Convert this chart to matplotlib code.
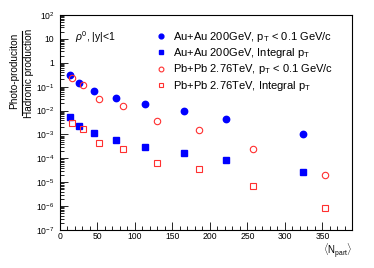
import numpy as np
import matplotlib
matplotlib.use("Agg")
import matplotlib.pyplot as plt
from matplotlib.lines import Line2D
from matplotlib.ticker import FixedLocator, FixedFormatter, MultipleLocator

plt.rcParams['font.family'] = ['Liberation Sans', 'DejaVu Sans']
plt.rcParams['mathtext.fontset'] = 'custom'
plt.rcParams['mathtext.rm'] = 'Liberation Sans'
plt.rcParams['mathtext.it'] = 'Liberation Sans:italic'

# data
npartAu = [13.5, 25.7, 45.7, 74.7, 113, 165, 222, 324]
auLowPt = [0.31, 0.147, 0.068, 0.035, 0.018, 0.0095, 0.0044, 1.0e-3]
auIntPt = [0.0052, 0.0023, 0.00112, 5.9e-4, 3.1e-4, 1.6e-4, 8.5e-5, 2.6e-5]

npartPb = [15.6, 30.3, 52.4, 84.4, 129, 185, 258, 354]
pbLowPt = [0.23, 0.118, 0.030, 0.0156, 0.0037, 0.0016, 2.5e-4, 2.1e-5]
pbIntPt = [0.0031, 0.00165, 4.3e-4, 2.4e-4, 6.3e-5, 3.5e-5, 7e-6, 8.7e-7]

labels = [r"Au+Au 200GeV, p$_{\mathrm{T}}$ < 0.1 GeV/c",
          r"Au+Au 200GeV, Integral p$_{\mathrm{T}}$",
          r"Pb+Pb 2.76TeV, p$_{\mathrm{T}}$ < 0.1 GeV/c",
          r"Pb+Pb 2.76TeV, Integral p$_{\mathrm{T}}$"]

yTicks = [1e-7, 1e-6, 1e-5, 1e-4, 1e-3, 1e-2, 1e-1, 1, 10, 100]
yTickLabels = ["$10^{-7}$", "$10^{-6}$", "$10^{-5}$", "$10^{-4}$", "$10^{-3}$",
               "$10^{-2}$", "$10^{-1}$", "1", "10", "$10^{2}$"]

W, H = 374, 268
fig = plt.figure(figsize=(W / 100, H / 100), dpi=100)
ax = fig.add_axes([60 / W, 1 - 230 / H, (351.7 - 60) / W, (230 - 15) / H])

blue = '#0000ff'
red = '#ff3030'
h1, = ax.plot(npartAu, auLowPt, 'o', color=blue, ms=4.6, mec=blue, ls='none')
h2, = ax.plot(npartAu, auIntPt, 's', color=blue, ms=4.3, mec=blue, ls='none')
h3, = ax.plot(npartPb, pbLowPt, 'o', mfc='none', mec=red, mew=0.8, ms=4.6, ls='none')
h4, = ax.plot(npartPb, pbIntPt, 's', mfc='none', mec=red, mew=0.8, ms=4.6, ls='none')

ax.set_yscale('log')
ax.set_xlim(0, 389)
ax.set_ylim(1e-7, 100)
ax.yaxis.set_major_locator(FixedLocator(yTicks))
ax.yaxis.set_major_formatter(FixedFormatter(yTickLabels))
minor = [m * 10.0 ** e for e in range(-7, 2) for m in range(2, 10)]
ax.yaxis.set_minor_locator(FixedLocator(minor))
ax.xaxis.set_major_locator(MultipleLocator(50))
ax.xaxis.set_minor_locator(MultipleLocator(10))

ax.tick_params(which='both', direction='in', top=False, right=False, labelsize=6.2, width=0.6)
ax.tick_params(axis='y', which='major', length=6, pad=4)
ax.tick_params(axis='y', which='minor', length=3)
ax.tick_params(axis='x', which='major', length=5.5, pad=1.5)
ax.tick_params(axis='x', which='minor', length=2.8)
for s in ax.spines.values():
    s.set_linewidth(0.8)

fig.text(75 / W, 1 - 37 / H, r"$\rho^{0}$, |y|<1", fontsize=7.5, va='center', ha='left')

fig.legend([h1, h2, h3, h4], labels, loc='upper left',
           bbox_to_anchor=(149.5 / W, 1 - 24 / H), frameon=False, fontsize=8,
           handlelength=1.0, handletextpad=0.65, labelspacing=0.22, borderpad=0,
           markerscale=0.75)

# y title drawn as a fraction
fig.text(14 / W, 1 - 71 / H, "Photo-produciton", rotation=90, fontsize=7.2,
         ha='center', va='center')
fig.text(29 / W, 1 - 73 / H, "Hadronic production", rotation=90, fontsize=7.2,
         ha='center', va='center')
fig.add_artist(Line2D([21.5 / W, 21.5 / W], [1 - 31 / H, 1 - 115 / H],
                      transform=fig.transFigure, color='black', lw=0.8))

fig.text(352 / W, 1 - 251 / H, r"$\langle$N$_{\mathrm{part}}$$\rangle$", fontsize=7,
         ha='right', va='center')

fig.savefig("out.png", dpi=100)
